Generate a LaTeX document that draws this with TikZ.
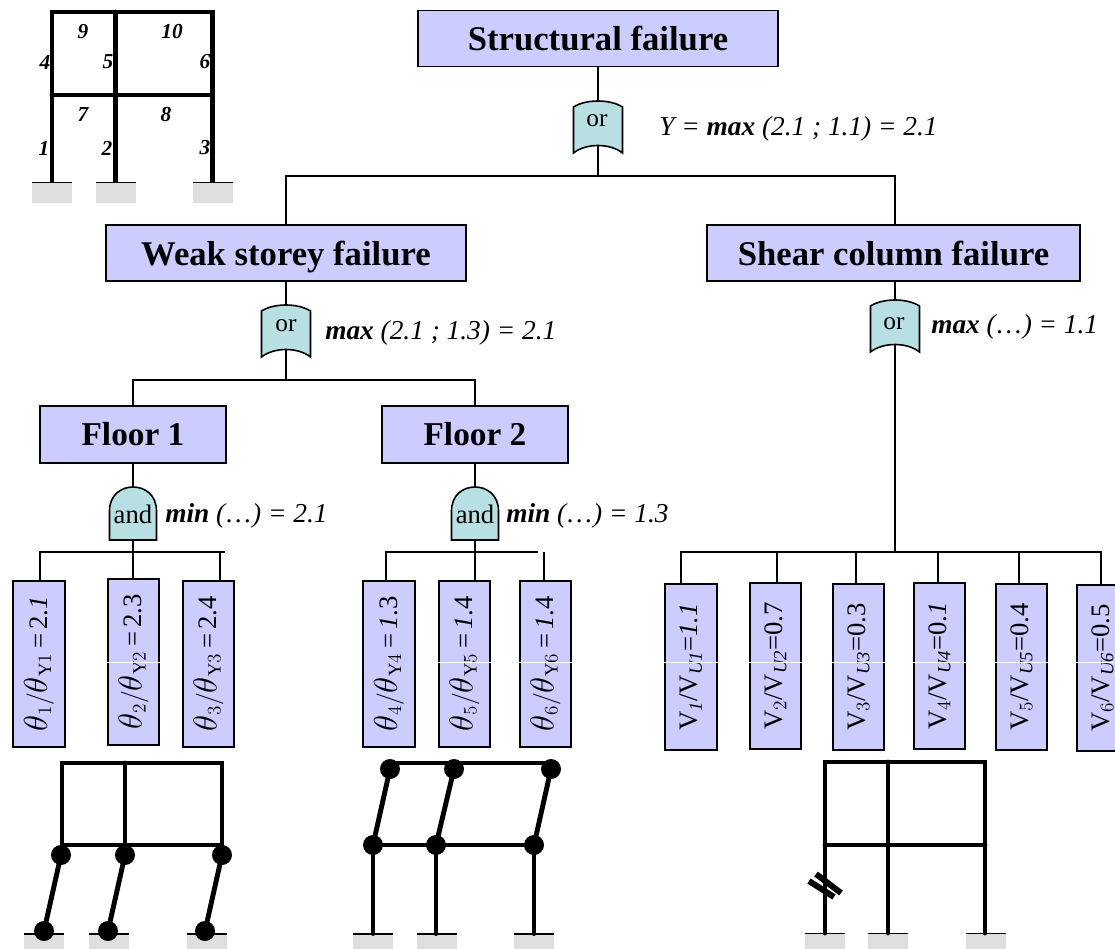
\documentclass[tikz,border=0pt]{standalone}
\usepackage{fontspec}
\usepackage{amsmath}
\setmainfont{Liberation Serif}

\definecolor{boxblue}{RGB}{204,204,255}
\definecolor{gateteal}{RGB}{184,224,226}
\definecolor{groundgray}{RGB}{222,222,222}

\newcommand{\tht}{\mbox{\scalebox{1.2}{$\theta$}}}
\newcommand{\rone}{\textit{1}}

\tikzset{
    failbox/.style={draw, line width=1.3pt, fill=boxblue, inner sep=0pt, text height=23pt, text depth=5pt, font=\fontsize{26}{26}\selectfont\bfseries},
    floorbox/.style={failbox, minimum width=140pt, minimum height=43pt, text height=21pt, font=\fontsize{25}{25}\selectfont\bfseries},
    ratiobox/.style={draw, line width=1.3pt, fill=boxblue, inner sep=0pt, rotate=90, minimum width=124.5pt, minimum height=38.5pt, font=\fontsize{20}{20}\selectfont},
    gatetext/.style={inner sep=0pt, font=\fontsize{19}{19}\selectfont},
    formula/.style={anchor=base west, inner sep=0pt, font=\fontsize{20.5}{20.5}\selectfont\itshape},
    wire/.style={line width=1.3pt},
    scanline/.style={white, line width=0.6pt},
    beam/.style={line width=3.7pt, line cap=round},
    hinge/.style={circle, fill=black, inner sep=0pt, minimum size=15pt},
    memberno/.style={inner sep=0pt, font=\fontsize{16}{16}\selectfont\itshape\bfseries},
    orgate/.pic={
        \draw[line width=1.2pt, fill=gateteal] (-24.5,6) .. controls (-12,-2) and (12,-2) .. (24.5,6) -- (24.5,52)
            .. controls (12,42) and (-12,42) .. (-24.5,52) -- cycle;
        \coordinate (-top) at (0,0);
        \coordinate (-bot) at (0,44);
    },
    andgate/.pic={
        \draw[line width=1.2pt, fill=gateteal] (-23.5,53) -- (-23.5,24) .. controls (-23.5,8) and (-12,0) .. (0,0)
            .. controls (12,0) and (23.5,8) .. (23.5,24) -- (23.5,53) -- cycle;
        \coordinate (-top) at (0,0);
        \coordinate (-bot) at (0,53);
    },
    footing/.pic={
        \fill[groundgray] (-20,0) rectangle (20,20);
        \draw[line width=0.9pt] (-20,0) -- (20,0);
    }
}

\begin{document}
\begin{tikzpicture}[x=0.75pt, y=-0.75pt]
    \clip (0,0) rectangle (1115,949);

    % main boxes
    \node[failbox, minimum width=270pt, minimum height=42pt] (top) at (598,38.5) {Structural failure};
    \node[failbox, minimum width=270pt, minimum height=42pt] (weak) at (286,253) {Weak storey failure};
    \node[failbox, minimum width=280pt, minimum height=42pt] (shear) at (893.5,253) {Shear column failure};
    \node[floorbox] (floora) at (133,434.5) {Floor 1};
    \node[floorbox] (floorb) at (475,434.5) {Floor 2};

    % gates
    \pic (gtop) at (598,101) {orgate};
    \pic (gweak) at (286,305) {orgate};
    \pic (gshear) at (895,300) {orgate};
    \pic (gfla) at (133,487) {andgate};
    \pic (gflb) at (475,487) {andgate};
    \node[gatetext] (ortop) at (597,121) {or};
    \node[gatetext] (orweak) at (286,326) {or};
    \node[gatetext] (orshear) at (894,324) {or};
    \node[gatetext, font=\fontsize{20}{20}\selectfont] (anda) at (133,514) {and};
    \node[gatetext, font=\fontsize{20}{20}\selectfont] (andb) at (475,514) {and};

    % formulas
    \node[formula] (ftop) at (659,136) {Y = \textbf{max} (2.1 ; 1.1) = 2.1};
    \node[formula] (fweak) at (325,339) {\textbf{max} (2.1 ; 1.3) = 2.1};
    \node[formula] (fshear) at (931,333) {\textbf{max} (\kern1pt\dots\kern1pt) = 1.1};
    \node[formula] (ffla) at (165,522) {\textbf{min} (\kern1pt\dots\kern1pt) = 2.1};
    \node[formula] (fflb) at (506,522) {\textbf{min} (\kern1pt\dots\kern1pt) = 1.3};

    % ratio boxes
    \node[ratiobox] (ta) at (39,664) {$\tht_1/\tht_{\mathrm{Y}1}$\,=\,2.\rone};
    \node[ratiobox] (tb) at (133.5,662) {$\tht_2/\tht_{\mathrm{Y}2}$\,=\,2.3};
    \node[ratiobox] (tc) at (208.5,664) {$\tht_3/\tht_{\mathrm{Y}3}$\,=\,2.4};
    \node[ratiobox] (td) at (389,664) {$\tht_4/\tht_{\mathrm{Y}4}$\,=\,\rone.3};
    \node[ratiobox] (te) at (464.5,664) {$\tht_5/\tht_{\mathrm{Y}5}$\,=\,\rone.4};
    \node[ratiobox] (tf) at (545.5,664) {$\tht_6/\tht_{\mathrm{Y}6}$\,=\,\rone.4};
    \node[ratiobox] (va) at (691,667) {V$_{\textit{1}}$/V$_{\textit{U1}}$=\textit{1.1}};
    \node[ratiobox] (vb) at (775.5,666) {V$_2$/V$_{\textit{U2}}$=0.7};
    \node[ratiobox] (vc) at (858.5,667) {V$_3$/V$_{\textit{U3}}$=0.3};
    \node[ratiobox] (vd) at (939.5,666) {V$_4$/V$_{\textit{U4}}$=0.\rone};
    \node[ratiobox] (ve) at (1021.5,667) {V$_5$/V$_{\textit{U5}}$=0.4};
    \node[ratiobox] (vf) at (1102.5,668) {V$_6$/V$_{\textit{U6}}$=0.5};
    \foreach \n in {tb,te,tf,va,vb,vc,vd,ve,vf}
        \draw[scanline] (\n.north |- 0,662) -- (\n.south |- 0,662);

    % connectors
    \coordinate (btop) at (598,176);
    \coordinate (bweak) at (286,380);
    \coordinate (bfla) at (133,552);
    \coordinate (bflb) at (475,552);
    \coordinate (bshear) at (895,552);
    \draw[wire] (top.south) -- (gtop-top);
    \draw[wire] (gtop-bot) -- (btop);
    \draw[wire] (weak.north) |- (btop) -| (gshear-top |- shear.north);
    \draw[wire] (weak.south) -- (gweak-top);
    \draw[wire] (gweak-bot) -- (bweak);
    \draw[wire] (floora.north) |- (bweak) -| (floorb.north);
    \draw[wire] (gshear-top |- shear.south) -- (gshear-top);
    \draw[wire] (gshear-bot) -- (bshear);
    \draw[wire] (floora.south) -- (gfla-top);
    \draw[wire] (gfla-bot) -- (gfla-bot |- tb.east);
    \draw[wire] (floorb.south) -- (gflb-top);
    \draw[wire] (gflb-bot) -- (gflb-bot |- te.east);
    \draw[wire] (40,581) |- (bfla) -- (225,552);
    \draw[wire] (220,552) -- (220,581);
    \draw[wire] (386,581) |- (bflb) -- (538,552);
    \draw[wire] (544,552) -- (544,581);
    \draw[wire] (681,584) |- (bshear) -| (1101,586);
    \foreach \n/\x in {vb/777, vc/856, vd/938, ve/1019}
        \draw[wire] (\x,552) -- (\x,552 |- \n.east);

    % frame with member numbers
    \draw[beam] (52,182) -- (52,12) -- (212.5,12) -- (212.5,182);
    \draw[beam] (115.5,12) -- (115.5,182);
    \draw[beam] (52,95) -- (212.5,95);
    \foreach \x in {52,116,213}
        \pic at (\x,182.5) {footing};
    \foreach \t/\x/\y in {1/44/148, 2/107/148, 3/205/148, 4/45/62, 5/108/62, 6/205/62, 7/83/115, 8/166/115, 9/83/32, 10/172/32}
        \node[memberno] (m\t) at (\x,\y) {\t};

    % frame, floor 1 hinges
    \foreach \x in {44,109,207}
        \pic at (\x,934) {footing};
    \draw[beam] (62,845) -- (62,763) -- (222,763) -- (222,845) -- cycle;
    \draw[beam] (125,763) -- (125,845);
    \node[hinge] (ha) at (61,855) {};
    \node[hinge] (hb) at (125,855) {};
    \node[hinge] (hc) at (222,855) {};
    \node[hinge] (hd) at (44,931) {};
    \node[hinge] (he) at (108,931) {};
    \node[hinge] (hf) at (205,931) {};
    \draw[beam] (ha) -- (hd);
    \draw[beam] (hb) -- (he);
    \draw[beam] (hc) -- (hf);

    % frame, floor 2 hinges
    \foreach \x in {373,437,534}
        \pic at (\x,934) {footing};
    \node[hinge] (hg) at (390,769) {};
    \node[hinge] (hh) at (454,769) {};
    \node[hinge] (hi) at (551,769) {};
    \node[hinge] (hj) at (373,845) {};
    \node[hinge] (hk) at (436,845) {};
    \node[hinge] (hl) at (534,845) {};
    \draw[beam] (hg) -- (hj) (hh) -- (hk) (hi) -- (hl);
    \draw[beam] (393,763) -- (548,763);
    \draw[beam, line width=3pt] (hj) -- (hl);
    \draw[beam, line width=3pt] (hj) -- (373,934);
    \draw[beam, line width=3pt] (hk) -- (436,934);
    \draw[beam, line width=3pt] (hl) -- (534,934);

    % frame, shear failure
    \foreach \x in {825,888,986}
        \pic at (\x,933.5) {footing};
    \draw[beam] (825,933) -- (825,762) -- (985,762) -- (985,933);
    \draw[beam] (888,762) -- (888,933);
    \draw[beam] (825,845) -- (985,845);
    \draw[line width=4.5pt] (809,881) -- (834,897);
    \draw[line width=4.5pt] (816,874) -- (841,893);
\end{tikzpicture}
\end{document}
